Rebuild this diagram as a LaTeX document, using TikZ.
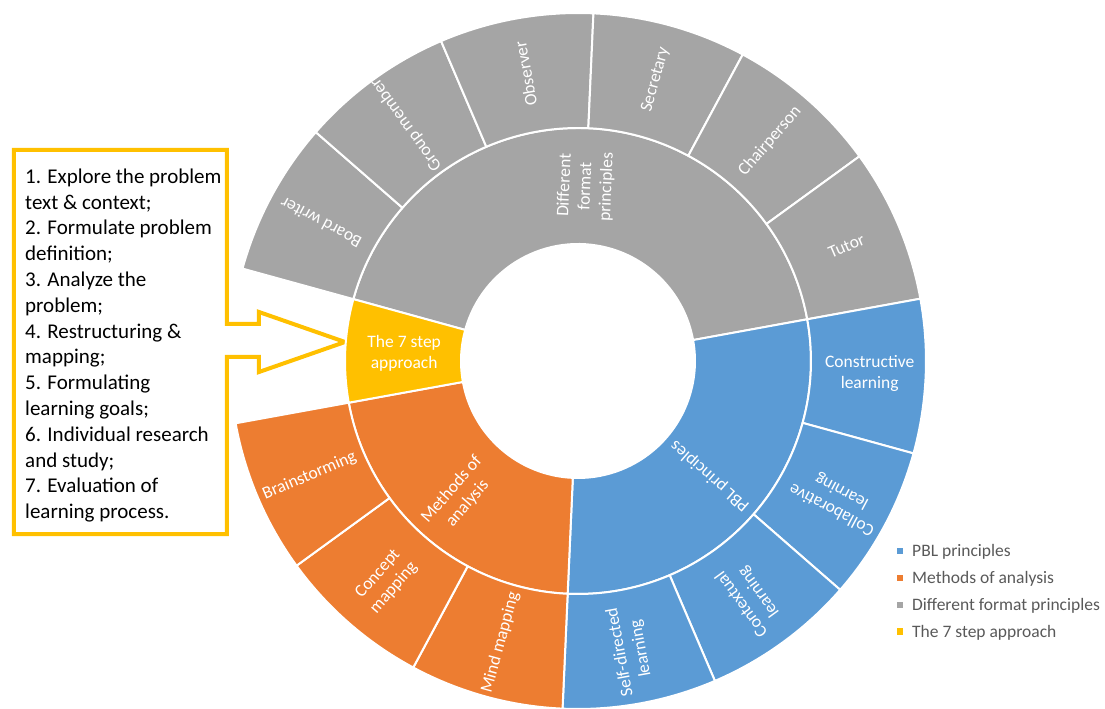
\documentclass[tikz,border=0pt]{standalone}
\usepackage{fontspec}
\setmainfont{Carlito}
\definecolor{pblblue}{HTML}{5B9BD5}
\definecolor{maorange}{HTML}{ED7D31}
\definecolor{dfgray}{HTML}{A5A5A5}
\definecolor{stepgold}{HTML}{FFC000}
\definecolor{legtext}{HTML}{595959}
\tikzset{
  seglabel/.style={text=white, font=\fontsize{17.5}{21}\selectfont, align=center, inner sep=0pt},
  segfill/.style={fill=#1, draw=white, line width=2pt, line join=round},
  legendtext/.style={text=legtext, font=\fontsize{17.5}{21}\selectfont, inner sep=0pt},
  boxtext/.style={text=black, font=\fontsize{21}{26}\selectfont, inner sep=0pt, anchor=base west},
  calloutline/.style={draw=stepgold, fill=white, line width=4pt, line join=miter},
}
\newcommand\ringsector[5]{%
  \filldraw[segfill=#1] (#2:#4) arc[start angle=#2, end angle=#3, radius=#4]
    -- (#3:#5) arc[start angle=#3, end angle=#2, radius=#5] -- cycle;}
\begin{document}
\begin{tikzpicture}[x=1pt,y=1pt]
\useasboundingbox (-578,-348) rectangle (527,361);
% callout box
\draw[calloutline] (-564,211) -- (-351,211) -- (-351,37) -- (-319,37) -- (-319,49)
  -- (-233,19) -- (-319,-11) -- (-319,4) -- (-351,4) -- (-351,-173) -- (-564,-173) -- cycle;
\foreach \t [count=\i from 0] in {{1. Explore the problem},{text \& context;},{2. Formulate problem},{definition;},{3. Analyze the},{problem;},{4. Restructuring \&},{mapping;},{5. Formulating},{learning goals;},{6. Individual research},{and study;},{7. Evaluation of},{learning process.}}{
  \node[boxtext] (line\i) at (-553,{177.7-25.8*\i}) {\t};
}
% inner ring
\ringsector{dfgray}{164.6}{10.314}{117}{233}
\ringsector{pblblue}{10.314}{-92.543}{117}{233}
\ringsector{maorange}{-92.543}{-169.686}{117}{233}
\ringsector{stepgold}{-169.686}{-195.4}{117}{233}
% outer ring
\ringsector{dfgray}{164.6}{138.886}{233}{348}
\ringsector{dfgray}{138.886}{113.171}{233}{348}
\ringsector{dfgray}{113.171}{87.457}{233}{348}
\ringsector{dfgray}{87.457}{61.743}{233}{348}
\ringsector{dfgray}{61.743}{36.029}{233}{348}
\ringsector{dfgray}{36.029}{10.314}{233}{348}
\ringsector{pblblue}{10.314}{-15.4}{233}{348}
\ringsector{pblblue}{-15.4}{-41.114}{233}{348}
\ringsector{pblblue}{-41.114}{-66.829}{233}{348}
\ringsector{pblblue}{-66.829}{-92.543}{233}{348}
\ringsector{maorange}{-92.543}{-118.257}{233}{348}
\ringsector{maorange}{-118.257}{-143.971}{233}{348}
\ringsector{maorange}{-143.971}{-169.686}{233}{348}
% inner labels
\node[seglabel, rotate=87.457] (df) at (87.457:175) {Different\\format\\principles};
\node[seglabel, rotate=138.886] (pbl) at (-41.114:175) {PBL principles};
\node[seglabel, rotate=48.886] (ma) at (-131.114:180) {Methods of\\analysis};
\node[seglabel] (seven) at (-182.543:174) {The 7 step\\approach};
% outer labels
\node[seglabel, rotate=151.743] (bw) at (151.743:292) {Board writer};
\node[seglabel, rotate=126.029] (gm) at (126.029:292) {Group member};
\node[seglabel, rotate=100.314] (ob) at (100.314:292) {Observer};
\node[seglabel, rotate=74.6] (se) at (74.6:292) {Secretary};
\node[seglabel, rotate=48.886] (ch) at (48.886:292) {Chairperson};
\node[seglabel, rotate=23.171] (tu) at (23.171:292) {Tutor};
\node[seglabel] (co) at (-2.543:292) {Constructive\\learning};
\node[seglabel, rotate=151.743] (cl) at (-28.257:294) {Collaborative\\learning};
\node[seglabel, rotate=126.029] (cx) at (-53.971:293) {Contextual\\learning};
\node[seglabel, rotate=100.314] (sd) at (-79.686:294) {Self-directed\\learning};
\node[seglabel, rotate=74.6] (mm) at (-105.4:292) {Mind mapping};
\node[seglabel, rotate=48.886] (cm) at (-131.114:292) {Concept\\mapping};
\node[seglabel, rotate=23.171] (bs) at (-156.829:292) {Brainstorming};
% legend
\foreach \c/\t [count=\k from 0] in {pblblue/PBL principles, maorange/Methods of analysis, dfgray/Different format principles, stepgold/The 7 step approach}{
  \fill[\c] (318.7,{361-556.7-26.8*\k+2.5}) rectangle ++(6.3,6.3);
  \node[legendtext, anchor=base west] (leg\k) at (334,{361-556.7-26.8*\k}) {\t};
}
\end{tikzpicture}
\end{document}
